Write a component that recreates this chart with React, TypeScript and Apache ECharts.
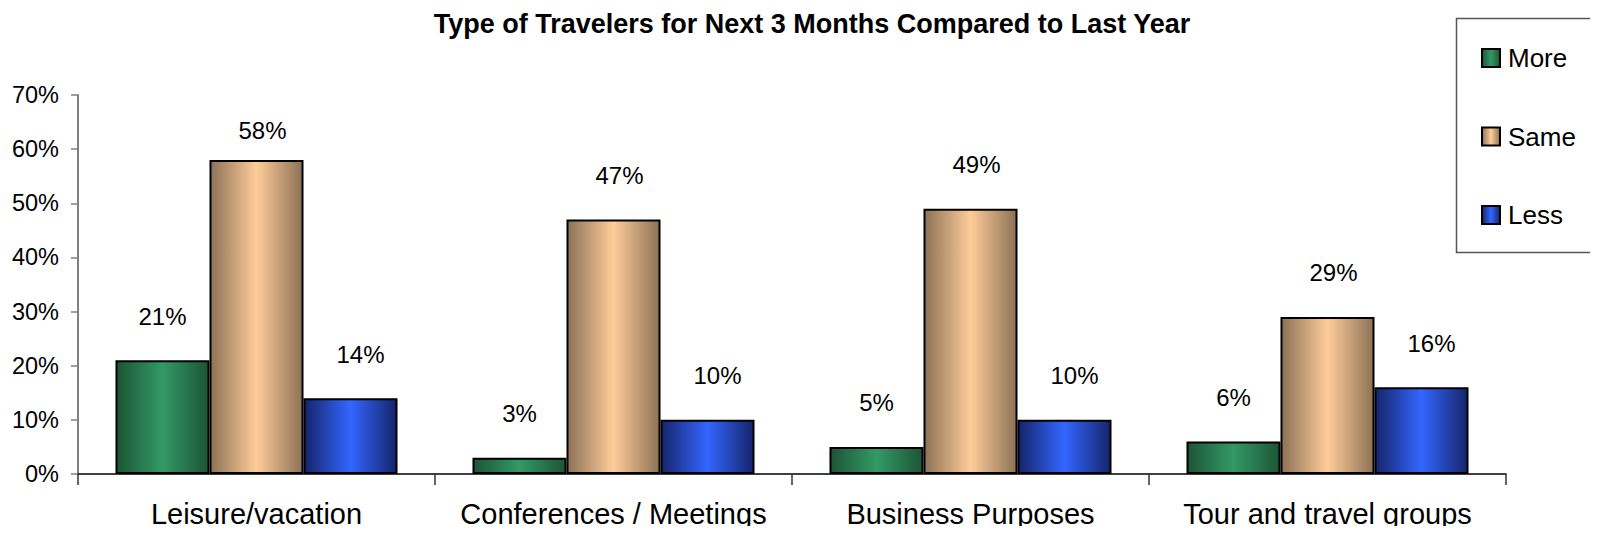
import React, { useEffect, useRef } from "react";
import * as echarts from "echarts";

const categories = ["Leisure/vacation", "Conferences / Meetings", "Business Purposes", "Tour and travel groups"];
const moreValues = [21, 3, 5, 6];
const sameValues = [58, 47, 49, 29];
const lessValues = [14, 10, 10, 16];
const seriesNames = ["More", "Same", "Less"];

const FONT = "'Liberation Sans', Arial, Helvetica, sans-serif";

function grad(edge: string, center: string) {
  return new echarts.graphic.LinearGradient(0, 0, 1, 0, [
    { offset: 0, color: edge },
    { offset: 0.5, color: center },
    { offset: 1, color: edge },
  ]);
}

export default function App() {
  const ref = useRef<HTMLDivElement>(null);
  useEffect(() => {
    if (!ref.current) return;
    const chart = echarts.init(ref.current, undefined, { renderer: "svg" });
    const label = (dx: number) => ({
      show: true,
      position: "top",
      distance: 32,
      offset: [dx, 0],
      formatter: "{c}%",
      fontFamily: FONT,
      fontSize: 24,
      color: "#000",
    });
    const mk = (name: string, data: number[], edge: string, center: string, dx: number) => ({
      name,
      type: "bar",
      data: data.map((v) => (v > 55 ? { value: v, label: { distance: 17 } } : v)),
      barGap: "0%",
      barCategoryGap: "21%",
      itemStyle: { color: grad(edge, center), borderColor: "#000", borderWidth: 2 },
      label: label(dx),
    });
    chart.setOption({
      animation: false,
      backgroundColor: "#fff",
      title: {
        text: "Type of Travelers for Next 3 Months Compared to Last Year",
        left: 807,
        textAlign: "center",
        top: 5,
        textStyle: { fontFamily: FONT, fontSize: 27, fontWeight: "bold", color: "#000" },
      },
      graphic: [
        {
          type: "rect",
          shape: { x: 1456.5, y: 18.5, width: 140, height: 234 },
          style: { fill: "none", stroke: "#555", lineWidth: 1.5 },
          z: -1,
        },
      ],
      legend: {
        orient: "vertical",
        left: 1481,
        top: 45,
        padding: 0,
        itemGap: 52.5,
        itemWidth: 18,
        itemHeight: 18,
        icon: "rect",
        textStyle: { fontFamily: FONT, fontSize: 26, color: "#000", padding: [0, 0, 0, 3] },
        data: seriesNames,
      },
      grid: { left: 78, right: 92, top: 95, bottom: 60, containLabel: false },
      xAxis: {
        type: "category",
        data: categories,
        axisLine: { show: true, lineStyle: { color: "#000", width: 1.5 } },
        axisTick: { show: true, length: 11, lineStyle: { color: "#333", width: 1.5 } },
        axisLabel: { interval: 0, fontFamily: FONT, fontSize: 29, color: "#000", margin: 25 },
      },
      yAxis: {
        type: "value",
        min: 0,
        max: 70,
        interval: 10,
        splitLine: { show: false },
        axisLine: { show: true, lineStyle: { color: "#808080", width: 2 } },
        axisTick: { show: true, length: 7, lineStyle: { color: "#808080", width: 1.5 } },
        axisLabel: { fontFamily: FONT, fontSize: 23.5, color: "#000", margin: 19, formatter: "{value}%" },
      },
      series: [
        mk(seriesNames[0], moreValues, "#1c5535", "#339966", 0),
        mk(seriesNames[1], sameValues, "#8c7256", "#ffcc99", 6),
        mk(seriesNames[2], lessValues, "#15256b", "#3366ff", 10),
      ],
    });
    return () => chart.dispose();
  }, []);
  return <div ref={ref} style={{ width: 1598, height: 534, margin: -8 }} />;
}
